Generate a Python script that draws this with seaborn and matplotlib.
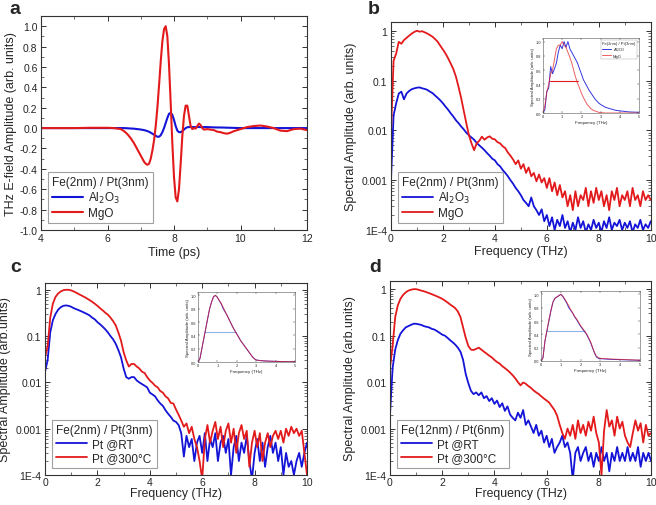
import matplotlib
matplotlib.use("Agg")
import matplotlib.pyplot as plt
import numpy as np
import seaborn as sns
from matplotlib.ticker import FixedLocator, FixedFormatter, MultipleLocator

# ---------------- data ----------------
# panel a: time-domain THz traces
time_ps = [4.0, 4.5, 5.0, 5.5, 6.0, 6.2, 6.4, 6.5, 6.6, 6.7,
           6.8, 6.9, 7.0, 7.1, 7.15, 7.2, 7.25, 7.3, 7.35, 7.4,
           7.45, 7.5, 7.55, 7.6, 7.65, 7.7, 7.75, 7.8, 7.85, 7.9,
           7.95, 8.0, 8.05, 8.1, 8.15, 8.2, 8.25, 8.3, 8.35, 8.4,
           8.45, 8.5, 8.55, 8.6, 8.65, 8.7, 8.75, 8.8, 8.85, 8.9,
           9.0, 9.1, 9.2, 9.3, 9.4, 9.5, 9.6, 9.7, 9.8, 9.9,
           10.0, 10.2, 10.4, 10.6, 10.8, 11.0, 11.2, 11.4, 11.6, 11.8,
           12.0]
a_mgo = [0.0, 0.0, 0.0, 0.003, 0.003, 0.0, -0.01, -0.03, -0.06, -0.1,
         -0.15, -0.21, -0.27, -0.33, -0.35, -0.36, -0.35, -0.3, -0.22, -0.12,
         0.02, 0.2, 0.42, 0.65, 0.85, 0.97, 1.0, 0.9, 0.62, 0.25,
         -0.15, -0.48, -0.68, -0.72, -0.6, -0.35, -0.08, 0.12, 0.22, 0.22,
         0.12, 0.02, -0.01, 0.0, -0.005, 0.02, 0.045, 0.03, 0.0, -0.015,
         -0.01, -0.015, -0.02, -0.035, -0.04, -0.05, -0.055, -0.045, -0.03, -0.02,
         -0.01, 0.01, 0.02, 0.025, 0.015, 0.0, -0.025, -0.03, -0.01, -0.005,
         -0.02]
a_al2o3 = [0.0, 0.0, 0.0, 0.0, 0.0, 0.0, 0.0, 0.0, -0.002, -0.004,
           -0.006, -0.01, -0.014, -0.02, -0.024, -0.03, -0.036, -0.045, -0.055, -0.065,
           -0.075, -0.085, -0.085, -0.07, -0.04, 0.0, 0.05, 0.1, 0.14, 0.15,
           0.13, 0.08, 0.02, -0.025, -0.04, -0.04, -0.03, -0.015, 0.0, 0.008,
           0.01, 0.012, 0.01, 0.01, 0.01, 0.01, 0.01, 0.01, 0.01, 0.01,
           0.01, 0.008, 0.007, 0.006, 0.006, 0.005, 0.004, 0.003, 0.002, 0.001,
           0.0, 0.0, 0.0, 0.0, 0.0, 0.0, 0.0, 0.0, 0.0, 0.0,
           0.0]

# panels b-d: spectra on a 0.1 THz grid, 0..10 THz
freq_thz = np.round(np.arange(0, 101) * 0.1, 1)

b_mgo = [0.009, 0.25, 0.35, 0.6, 0.55, 0.65, 0.72, 0.8, 0.88, 0.95,
         1.0, 0.96, 0.98, 0.93, 0.88, 0.82, 0.76, 0.68, 0.6, 0.5,
         0.42, 0.35, 0.28, 0.22, 0.17, 0.12, 0.075, 0.045, 0.025, 0.014,
         0.008, 0.0055, 0.004, 0.0055, 0.0062, 0.0075, 0.0065, 0.0072, 0.0076, 0.0068,
         0.0066, 0.0058, 0.0055, 0.0048, 0.0044, 0.0036, 0.0031, 0.0026, 0.0021, 0.0025,
         0.0017, 0.0021, 0.0014, 0.0018, 0.0012, 0.0014, 0.00095, 0.0013, 0.0009, 0.0011,
         0.0007, 0.0011, 0.0006, 0.0009, 0.0005, 0.0008, 0.00045, 0.0006, 0.0003, 0.0005,
         0.00025, 0.0006, 0.0003, 0.0005, 0.0004, 0.0007, 0.0003, 0.0006, 0.00035, 0.0007,
         0.0004, 0.0006, 0.0003, 0.0005, 0.00025, 0.0006, 0.0004, 0.0007, 0.0003, 0.0005,
         0.0004, 0.0006, 0.0003, 0.0007, 0.0004, 0.0005, 0.0003, 0.0006, 0.0004, 0.0005,
         0.0004]
b_al2o3 = [0.001, 0.02, 0.035, 0.055, 0.06, 0.042, 0.055, 0.062, 0.067, 0.07,
           0.072, 0.073, 0.07, 0.068, 0.065, 0.06, 0.056, 0.05, 0.045, 0.04,
           0.035, 0.03, 0.026, 0.022, 0.019, 0.016, 0.014, 0.012, 0.0105, 0.009,
           0.008, 0.0072, 0.0065, 0.0056, 0.005, 0.0045, 0.004, 0.0035, 0.0031, 0.0027,
           0.0025, 0.0021, 0.0019, 0.0016, 0.0014, 0.0012, 0.001, 0.00085, 0.0007, 0.0006,
           0.0005, 0.0004, 0.00035, 0.0003, 0.00045, 0.0003, 0.00025, 0.0002, 0.00026, 0.00015,
           0.0002, 0.00012, 0.00018, 0.0001, 0.00016, 0.00012, 0.0002, 0.00011, 0.00015, 0.00009,
           0.00014, 0.0001, 0.00018, 0.00011, 0.00015, 0.00009, 0.00013, 0.0001, 0.00016, 0.00011,
           0.00014, 0.00009, 0.00015, 0.00011, 0.00018, 0.0001, 0.00014, 0.00012, 0.00016, 0.0001,
           0.00014, 0.00011, 0.00015, 0.00009, 0.00013, 0.00011, 0.00016, 0.0001, 0.00013, 0.00011,
           0.00015]

c_300 = [0.035, 0.06, 0.25, 0.5, 0.7, 0.83, 0.92, 0.98, 1.0, 1.0,
         0.97, 0.92, 0.86, 0.8, 0.75, 0.7, 0.65, 0.6, 0.55, 0.5,
         0.45, 0.4, 0.36, 0.32, 0.29, 0.25, 0.21, 0.17, 0.12, 0.08,
         0.045, 0.03, 0.022, 0.025, 0.025, 0.022, 0.02, 0.017, 0.016, 0.013,
         0.011, 0.0098, 0.0085, 0.0078, 0.0065, 0.006, 0.005, 0.0045, 0.0036, 0.0035,
         0.0026, 0.002, 0.0015, 0.0011, 0.0013, 0.0008, 0.0011, 0.0006, 0.0004, 0.0002,
         0.00008, 0.0006, 0.0012, 0.0005, 0.0009, 0.0014, 0.0006, 0.0011, 0.0004, 0.0009,
         0.0013, 0.0005, 0.001, 0.0003, 0.0008, 0.0012, 0.0006, 0.0009, 0.00015, 0.0005,
         0.0009, 0.0004, 0.0008, 0.0002, 0.0005, 0.0008, 0.0004, 0.0007, 0.0009, 0.0006,
         0.0009, 0.0005, 0.001, 0.0007, 0.0011, 0.0008, 0.001, 0.0007, 0.0009, 0.0003,
         0.0001]
c_rt = [0.017, 0.03, 0.12, 0.22, 0.3, 0.37, 0.42, 0.45, 0.46, 0.45,
        0.43, 0.4, 0.38, 0.36, 0.34, 0.32, 0.3, 0.28, 0.25, 0.23,
        0.2, 0.18, 0.16, 0.14, 0.12, 0.1, 0.085, 0.068, 0.05, 0.035,
        0.02, 0.013, 0.012, 0.013, 0.013, 0.011, 0.01, 0.0092, 0.0085, 0.0078,
        0.006, 0.0055, 0.005, 0.0041, 0.0035, 0.0031, 0.0025, 0.0021, 0.0018, 0.0015,
        0.0014, 0.0012, 0.0008, 0.00025, 0.0007, 0.0004, 0.0006, 0.0002, 0.0005, 0.0007,
        0.0003, 0.0008, 0.0002, 0.0006, 0.0004, 0.0008, 0.0002, 0.0005, 0.0007, 0.0003,
        0.0006, 0.0001, 0.0004, 0.0007, 0.0002, 0.0005, 0.0003, 0.0007, 0.0002, 0.00008,
        0.0003, 0.0006, 0.0002, 0.0005, 0.00015, 0.0004, 0.0007, 0.0003, 0.0005, 0.0002,
        0.0004, 0.0001, 0.0003, 0.00015, 0.0002, 0.0001, 0.0002, 0.0003, 0.00015, 0.0003,
        0.0005]

d_300 = [0.02, 0.06, 0.25, 0.45, 0.62, 0.75, 0.85, 0.93, 0.97, 1.0,
         1.0, 0.97, 0.93, 0.9, 0.86, 0.82, 0.78, 0.74, 0.7, 0.66,
         0.62, 0.57, 0.52, 0.47, 0.43, 0.39, 0.33, 0.25, 0.15, 0.09,
         0.06, 0.05, 0.049, 0.052, 0.055, 0.05, 0.045, 0.041, 0.037, 0.034,
         0.03, 0.027, 0.025, 0.022, 0.02, 0.018, 0.016, 0.014, 0.012, 0.01,
         0.0085, 0.0098, 0.0092, 0.0082, 0.0075, 0.0066, 0.006, 0.0055, 0.0049, 0.0044,
         0.004, 0.0036, 0.003, 0.0025, 0.0019, 0.0012, 0.0008, 0.0006, 0.001, 0.0007,
         0.0012, 0.0006, 0.0015, 0.0008, 0.0012, 0.0007, 0.0014, 0.0009, 0.0018, 0.0008,
         0.0005, 0.0001, 0.0009, 0.0025, 0.0011, 0.0015, 0.0007, 0.0018, 0.001, 0.0014,
         0.0007, 0.0005, 0.0004, 0.0008, 0.0015, 0.0009, 0.0013, 0.0005, 0.0012, 0.0007,
         0.0008]
d_rt = [0.002, 0.02, 0.05, 0.08, 0.11, 0.13, 0.15, 0.16, 0.17, 0.18,
        0.18, 0.175, 0.17, 0.16, 0.155, 0.15, 0.14, 0.135, 0.125, 0.115,
        0.105, 0.1, 0.09, 0.08, 0.072, 0.064, 0.055, 0.045, 0.03, 0.015,
        0.0095, 0.0065, 0.0055, 0.006, 0.0052, 0.006, 0.0045, 0.005, 0.0039, 0.0045,
        0.0034, 0.004, 0.0029, 0.0035, 0.0024, 0.003, 0.002, 0.0017, 0.0015, 0.0022,
        0.0017, 0.0025, 0.0012, 0.0015, 0.0011, 0.0008, 0.0012, 0.0007, 0.0009, 0.0005,
        0.0007, 0.0004, 0.0006, 0.0003, 0.0004, 0.0005, 0.0007, 0.0004, 0.0005, 0.0003,
        0.00008, 0.0003, 0.0004, 0.0002, 0.0003, 0.0004, 0.0002, 0.0003, 0.00015, 0.0003,
        0.0002, 0.0004, 0.0002, 0.0003, 0.00012, 0.0003, 0.0002, 0.0004, 0.0002, 0.0003,
        0.0002, 0.0004, 0.0002, 0.0003, 0.0002, 0.0004, 0.00015, 0.0003, 0.0002, 0.0003,
        0.0002]

# insets: normalized spectra, linear scale
inset_freq = [0.0, 0.1, 0.2, 0.3, 0.4, 0.5, 0.6, 0.7, 0.8, 0.9,
              1.0, 1.1, 1.2, 1.3, 1.4, 1.5, 1.6, 1.7, 1.8, 1.9,
              2.0, 2.1, 2.2, 2.3, 2.4, 2.5, 2.6, 2.7, 2.8, 2.9,
              3.0, 3.25, 3.5, 3.75, 4.0, 4.5, 5.0]
ib_al2o3 = [0.0, 0.05, 0.3, 0.35, 0.65, 0.55, 0.62, 0.7, 0.85, 0.95,
            0.9, 1.0, 0.92, 1.0, 0.9, 0.85, 0.8, 0.75, 0.7, 0.62,
            0.55, 0.47, 0.42, 0.37, 0.32, 0.28, 0.24, 0.2, 0.17, 0.14,
            0.12, 0.08, 0.06, 0.04, 0.03, 0.015, 0.01]
ib_mgo = [0.0, 0.1, 0.3, 0.4, 0.55, 0.6, 0.75, 0.9, 0.95, 0.95,
          1.0, 0.95, 0.92, 0.85, 0.78, 0.7, 0.6, 0.5, 0.42, 0.35,
          0.28, 0.22, 0.17, 0.12, 0.09, 0.06, 0.04, 0.03, 0.02, 0.01,
          0.005, 0.0, 0.0, 0.0, 0.0, 0.0, 0.0]
ic_rt = [0.0, 0.05, 0.2, 0.35, 0.5, 0.65, 0.8, 0.9, 0.98, 1.0,
         0.97, 0.92, 0.87, 0.8, 0.75, 0.7, 0.64, 0.58, 0.52, 0.47,
         0.42, 0.37, 0.32, 0.28, 0.24, 0.2, 0.16, 0.12, 0.08, 0.05,
         0.03, 0.02, 0.015, 0.012, 0.01, 0.005, 0.005]
ic_300 = [0.0, 0.05, 0.2, 0.36, 0.5, 0.66, 0.8, 0.9, 0.98, 1.0,
          0.97, 0.92, 0.88, 0.82, 0.76, 0.7, 0.64, 0.58, 0.52, 0.47,
          0.42, 0.37, 0.32, 0.28, 0.24, 0.2, 0.16, 0.12, 0.08, 0.05,
          0.03, 0.02, 0.015, 0.012, 0.01, 0.005, 0.005]
id_rt = [0.0, 0.05, 0.3, 0.45, 0.6, 0.75, 0.88, 0.94, 0.96, 0.98,
         1.0, 0.97, 0.92, 0.87, 0.8, 0.76, 0.72, 0.66, 0.62, 0.57,
         0.52, 0.48, 0.44, 0.4, 0.34, 0.28, 0.2, 0.12, 0.06, 0.04,
         0.035, 0.03, 0.025, 0.022, 0.02, 0.015, 0.01]
id_300 = [0.0, 0.05, 0.3, 0.46, 0.62, 0.76, 0.88, 0.94, 0.96, 0.98,
          1.0, 0.97, 0.93, 0.88, 0.83, 0.77, 0.72, 0.67, 0.63, 0.58,
          0.53, 0.49, 0.45, 0.41, 0.35, 0.29, 0.21, 0.13, 0.07, 0.05,
          0.04, 0.035, 0.03, 0.027, 0.024, 0.018, 0.012]

# half-maximum bars in the insets (start, end, level)
ib_bar = [0.35, 1.85, 0.45]
ic_bar = [0.35, 1.95, 0.45]
id_bar = [0.3, 2.2, 0.45]

BLUE = "#1414d8"
RED = "#e31a1c"

sns.set_theme(style="ticks")
plt.rcParams["font.family"] = ["Liberation Sans", "DejaVu Sans"]
plt.rcParams["axes.linewidth"] = 0.8

fig = plt.figure(figsize=(6.56, 5.06), dpi=100)

ax_a = fig.add_axes([0.0625, 0.5435, 0.4055, 0.4229])
ax_b = fig.add_axes([0.596, 0.5435, 0.396, 0.411])
ax_c = fig.add_axes([0.0686, 0.0593, 0.3994, 0.3794])
ax_d = fig.add_axes([0.5945, 0.0593, 0.398, 0.3834])


def style_ticks(ax):
    ax.tick_params(which="both", direction="in", top=True, right=True,
                   labelsize=7.5, color="#333333", pad=2.5)
    ax.tick_params(which="major", length=3.5, width=0.7)
    ax.tick_params(which="minor", length=2, width=0.5)
    for sp in ax.spines.values():
        sp.set_color("#333333")


def add_legend(ax, title, labels):
    leg = ax.legend(title=title, loc="lower left", fontsize=8.5, title_fontsize=8.5,
                    frameon=True, fancybox=False, edgecolor="#888888",
                    handlelength=2.6, handletextpad=0.4, borderpad=0.35,
                    labelspacing=0.15, borderaxespad=0.6)
    leg._legend_box.align = "left"
    leg.get_frame().set_linewidth(0.8)
    for t, lab in zip(leg.get_texts(), labels):
        t.set_text(lab)


# panel a
sns.lineplot(x=time_ps, y=a_al2o3, ax=ax_a, color=BLUE, lw=1.5, label="Al$_2$O$_3$", sort=False)
sns.lineplot(x=time_ps, y=a_mgo, ax=ax_a, color=RED, lw=1.5, label="MgO", sort=False)
ax_a.set_xlim(4, 12)
ax_a.set_ylim(-1.0, 1.1)
ax_a.xaxis.set_major_locator(MultipleLocator(2))
ax_a.xaxis.set_minor_locator(MultipleLocator(1))
ax_a.yaxis.set_major_locator(MultipleLocator(0.2))
ax_a.yaxis.set_minor_locator(MultipleLocator(0.1))
ax_a.yaxis.set_major_formatter(plt.FuncFormatter(lambda v, p: f"{v:.1f}"))
ax_a.set_xlabel("Time (ps)", fontsize=9, labelpad=2)
ax_a.set_ylabel("THz E-field Amplitude (arb. units)", fontsize=9, labelpad=2)
style_ticks(ax_a)
add_legend(ax_a, "Fe(2nm) / Pt(3nm)", ["Al$_2$O$_3$", "MgO"])

log_ticks = [1e-4, 1e-3, 1e-2, 1e-1, 1]
log_labels = ["1E-4", "0.001", "0.01", "0.1", "1"]


def spectrum_axes(ax, ylabel, top):
    ax.set_yscale("log")
    ax.set_xlim(0, 10)
    ax.set_ylim(1e-4, top)
    ax.xaxis.set_major_locator(MultipleLocator(2))
    ax.xaxis.set_minor_locator(MultipleLocator(1))
    ax.yaxis.set_major_locator(FixedLocator(log_ticks))
    ax.yaxis.set_major_formatter(FixedFormatter(log_labels))
    ax.set_xlabel("Frequency (THz)", fontsize=9, labelpad=1)
    ax.set_ylabel(ylabel, fontsize=9, labelpad=3)
    style_ticks(ax)


# panel b
sns.lineplot(x=freq_thz, y=b_al2o3, ax=ax_b, color=BLUE, lw=1.3, label="Al$_2$O$_3$")
sns.lineplot(x=freq_thz, y=b_mgo, ax=ax_b, color=RED, lw=1.3, label="MgO")
spectrum_axes(ax_b, "Spectral Amplitude (arb. units)", 1.5)
add_legend(ax_b, "Fe(2nm) / Pt(3nm)", ["Al$_2$O$_3$", "MgO"])

# panel c
sns.lineplot(x=freq_thz, y=c_rt, ax=ax_c, color=BLUE, lw=1.3, label="Pt @RT")
sns.lineplot(x=freq_thz, y=c_300, ax=ax_c, color=RED, lw=1.3, label="Pt @300°C")
spectrum_axes(ax_c, "Spectral Amplitude (arb.units)", 1.4)
add_legend(ax_c, "Fe(2nm) / Pt(3nm)", ["Pt @RT", "Pt @300°C"])

# panel d
sns.lineplot(x=freq_thz, y=d_rt, ax=ax_d, color=BLUE, lw=1.3, label="Pt @RT")
sns.lineplot(x=freq_thz, y=d_300, ax=ax_d, color=RED, lw=1.3, label="Pt @300°C")
spectrum_axes(ax_d, "Spectral Amplitude (arb.units)", 1.5)
add_legend(ax_d, "Fe(12nm) / Pt(6nm)", ["Pt @RT", "Pt @300°C"])

# bottom row labels sit tight against the figure edge
for ax in (ax_c, ax_d):
    ax.tick_params(axis="x", pad=1.5)
    ax.xaxis.label.set_size(8.8)
    ax.xaxis.labelpad = 0.2


# insets
def make_inset(rect, blue_vals, red_vals, bar, bar_color, legend=False):
    ax = fig.add_axes(rect)
    ax.plot([bar[0], bar[1]], [bar[2], bar[2]], color=bar_color, lw=0.8)
    sns.lineplot(x=inset_freq, y=blue_vals, ax=ax, color=BLUE, lw=0.7,
                 label="Al$_2$O$_3$" if legend else None, alpha=0.85)
    sns.lineplot(x=inset_freq, y=red_vals, ax=ax, color=RED, lw=0.7,
                 label="MgO" if legend else None, alpha=0.7)
    ax.set_xlim(0, 5)
    ax.set_ylim(0, 1.05)
    ax.xaxis.set_major_locator(MultipleLocator(1))
    ax.yaxis.set_major_locator(MultipleLocator(0.2))
    ax.yaxis.set_major_formatter(plt.FuncFormatter(lambda v, p: f"{v:.1f}"))
    ax.tick_params(which="both", direction="in", top=True, right=True,
                   labelsize=2.8, length=1.2, width=0.3, pad=1)
    for sp in ax.spines.values():
        sp.set_linewidth(0.4)
        sp.set_color("#555555")
    ax.set_xlabel("Frequency (THz)", fontsize=3.2, labelpad=1)
    ax.set_ylabel("Spectral Amplitude (arb. units)", fontsize=3.2, labelpad=1)
    if legend:
        leg = ax.legend(title="Fe(2nm) / Pt(3nm)", loc="upper right", fontsize=3,
                        title_fontsize=3, frameon=True, fancybox=False,
                        edgecolor="#888888", handlelength=2.2, borderpad=0.3,
                        labelspacing=0.1, handletextpad=0.4)
        leg._legend_box.align = "left"
        leg.get_frame().set_linewidth(0.3)
    elif ax.get_legend() is not None:
        ax.get_legend().remove()
    return ax


make_inset([0.8277, 0.7747, 0.1463, 0.1482], ib_al2o3, ib_mgo, ib_bar, RED, legend=True)
make_inset([0.3018, 0.2826, 0.1479, 0.1383], ic_rt, ic_300, ic_bar, "#8fb3e8")
make_inset([0.8247, 0.2846, 0.1509, 0.1383], id_rt, id_300, id_bar, "#8fb3e8")

# panel letters
for x, y, s in [(0.015, 0.998, "a"), (0.561, 0.998, "b"), (0.015, 0.488, "c"), (0.563, 0.488, "d")]:
    fig.text(x, y, s, fontsize=14, fontweight="bold", va="top", ha="left")

fig.savefig("out.png", dpi=100)
